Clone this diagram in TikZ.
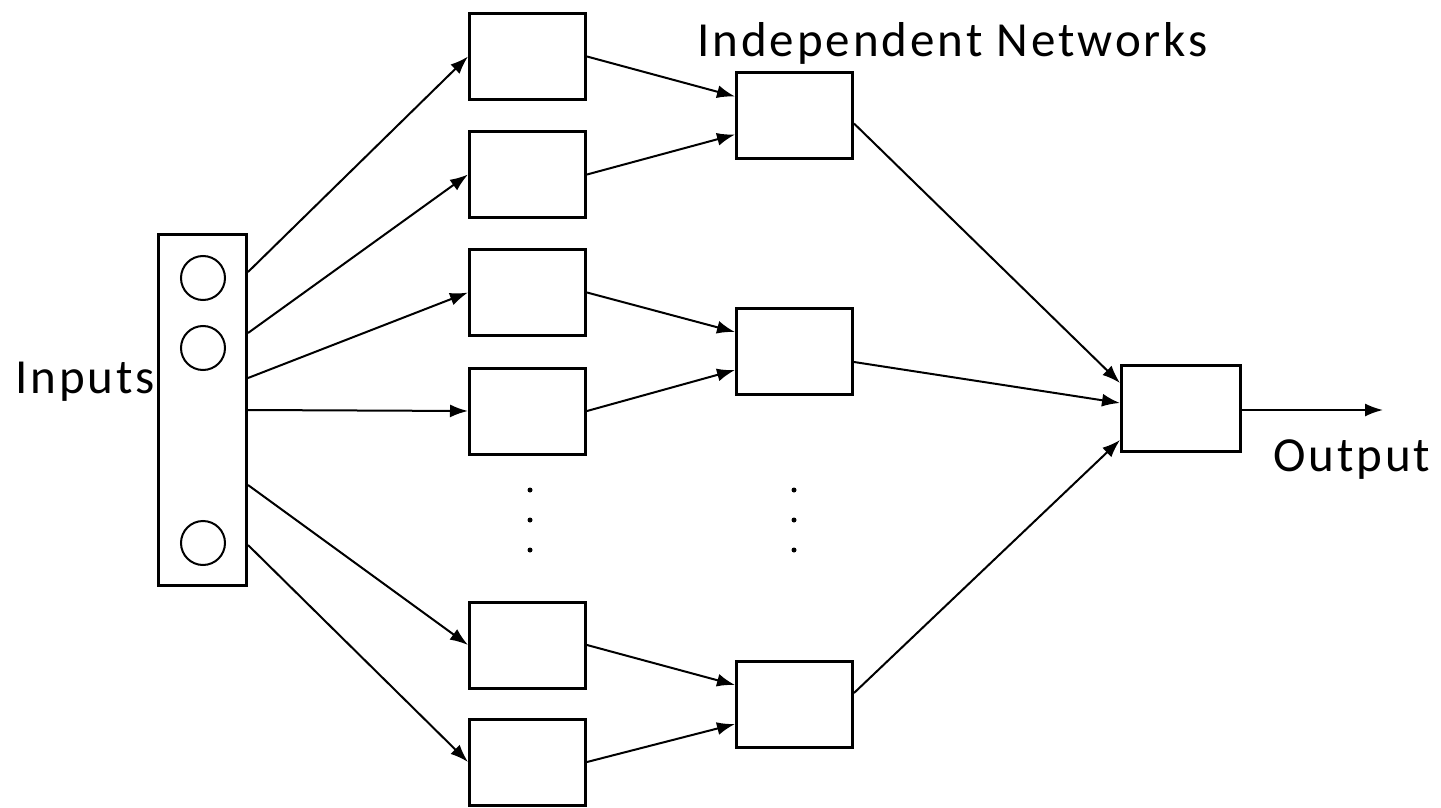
\documentclass[tikz,border=0pt]{standalone}
\usepackage{fontspec}
\setmainfont{Carlito}
\newfontfamily\lblfont[LetterSpace=6]{Carlito}
\usetikzlibrary{arrows.meta,
    positioning}

\begin{document}
\begin{tikzpicture}[x=1pt, y=-1pt,
                  net/.style = {draw, line width=3pt, minimum width=116pt, minimum height=86pt, inner sep=0pt},
                  unit/.style = {draw, circle, line width=2pt, minimum size=44pt, inner sep=0pt},
                  arr/.style = {-{Latex[length=18pt, width=13pt]}, line width=2pt},
                  lbl/.style = {inner sep=0pt, font=\lblfont\fontsize{49}{58}\selectfont}
                  ]
                  \useasboundingbox (0,0) rectangle (1441,808);
                  \node (inp) [draw, line width=3pt, minimum width=88pt, minimum height=351pt] at (202.5,410) {};
                  \foreach \y [count=\j] in {278,348,543}
                  \node (u\j) [unit] at (203,\y) {};
                  \foreach \y [count=\j] in {56.5,174.5,292.5,411,645,762}
                  \node (n\j) [net] at (527.5,\y) {};
                  \foreach \y [count=\j] in {115.5,351,704}
                  \node (m\j) [net] at (794.5,\y) {};
                  \node (out) [net, minimum width=119pt] at (1181,408) {};
                  \coordinate (end) at (1383,410);
                  \foreach \x in {530,794}
                  \foreach \y in {490,520,550}
                  \fill (\x,\y) circle (2.5pt);
                  \node (inlbl) [lbl, anchor=base west] at (15,393) {Inputs};
                  \node (title) [lbl, anchor=base west] at (697,57) {Independent Networks};
                  \node (outlbl) [lbl, anchor=base west] at (1273,471) {Output};
                  \foreach \s [count=\j] in {138,77,32,0,-75,-135}
                  \draw[arr] ([yshift=\s pt]inp.east) -- (n\j.west);
                  \foreach \i/\k/\s in {1/1/19, 2/1/-19, 3/2/19, 4/2/-19, 5/3/19, 6/3/-20}
                  \draw[arr] (n\i.east) -- ([yshift=\s pt]m\k.west);
                  \foreach \k/\s/\t in {1/-8/25, 2/-11/5, 3/11/-32}
                  \draw[arr] ([yshift=\s pt]m\k.east) -- ([yshift=\t pt]out.west);
                  \draw[arr] ([yshift=-2pt]out.east) -- (end);
              \end{tikzpicture}
\end{document}
